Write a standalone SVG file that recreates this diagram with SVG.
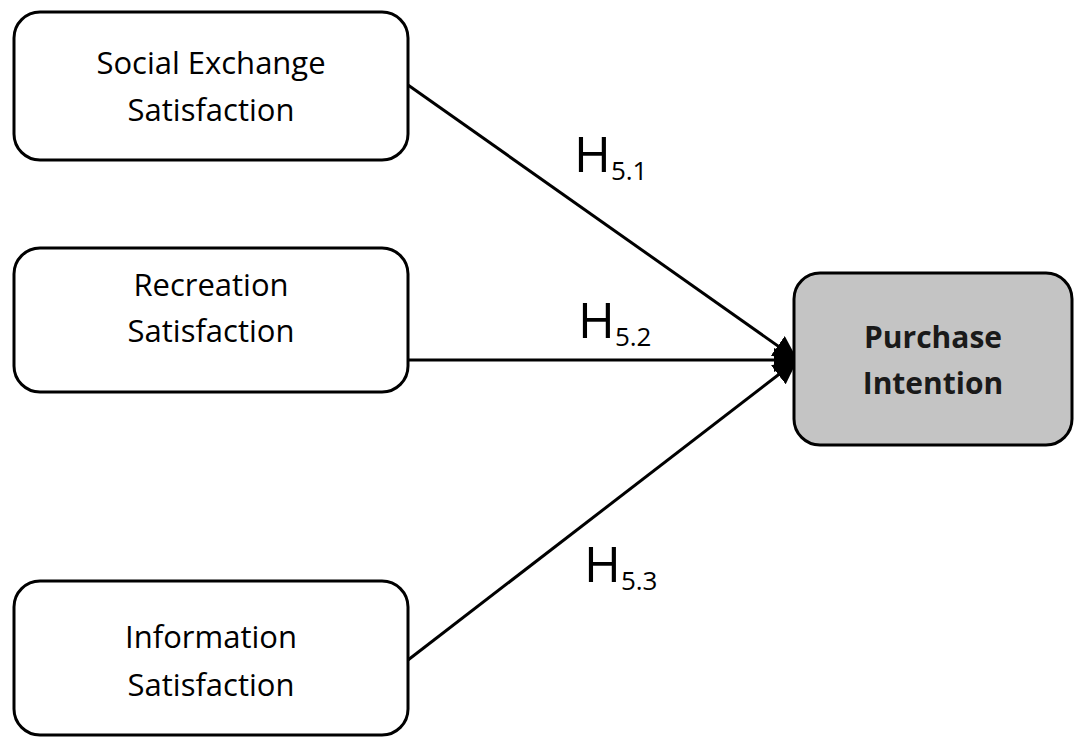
<svg xmlns="http://www.w3.org/2000/svg" width="1075" height="738" viewBox="0 0 1075 738">
<style>
.box{fill:#fff;stroke:#000;stroke-width:3}
.t{font-family:"Open Sans","Liberation Sans",sans-serif;font-size:31px;font-weight:500;fill:#000;text-anchor:middle}
.b{font-family:"Open Sans","Liberation Sans",sans-serif;font-size:30px;font-weight:700;fill:#1a1a1a;text-anchor:middle}
.h{font-family:"Open Sans","Liberation Sans",sans-serif;font-size:50px;fill:#000}
.c{stroke:#000;stroke-width:3;fill:none}
</style>
<defs>
<marker id="ar" markerWidth="8" markerHeight="8" refX="7" refY="4" orient="auto" markerUnits="strokeWidth">
<path d="M0,0 L8,4 L0,8 Z" fill="#000"/>
</marker>
</defs>
<rect width="1075" height="738" fill="#fff"/>
<g id="connectors">
<line class="c" x1="408" y1="85" x2="795" y2="358" marker-end="url(#ar)"/>
<line class="c" x1="408" y1="360" x2="795" y2="360" marker-end="url(#ar)"/>
<line class="c" x1="408" y1="660" x2="795" y2="362" marker-end="url(#ar)"/>
</g>
<g id="n1">
<rect class="box" x="14" y="12" width="394" height="148" rx="26"/>
<text class="t" x="211" y="74">Social Exchange</text>
<text class="t" x="211" y="121">Satisfaction</text>
</g>
<g id="n2">
<rect class="box" x="14" y="248" width="394" height="144" rx="26"/>
<text class="t" x="211" y="296">Recreation</text>
<text class="t" x="211" y="342">Satisfaction</text>
</g>
<g id="n3">
<rect class="box" x="14" y="581" width="394" height="154" rx="26"/>
<text class="t" x="211" y="648">Information</text>
<text class="t" x="211" y="696">Satisfaction</text>
</g>
<g id="n4">
<rect x="794" y="273" width="278" height="172" rx="26" fill="#c4c4c4" stroke="#000" stroke-width="3"/>
<text class="b" x="933" y="348">Purchase</text>
<text class="b" x="933" y="394">Intention</text>
</g>
<g id="labels">
<text class="h" x="574" y="172">H<tspan font-size="26" dy="8">5.1</tspan></text>
<text class="h" x="578" y="338">H<tspan font-size="26" dy="8">5.2</tspan></text>
<text class="h" x="584" y="582">H<tspan font-size="26" dy="8">5.3</tspan></text>
</g>
</svg>
